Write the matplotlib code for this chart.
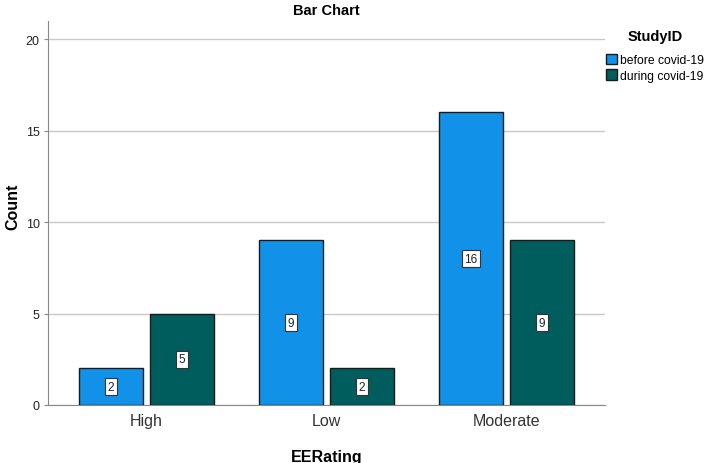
import matplotlib
matplotlib.use("Agg")
import matplotlib.pyplot as plt
import numpy as np

plt.rcParams["font.family"] = ["Liberation Sans", "DejaVu Sans"]

categories = ["High", "Low", "Moderate"]
series_names = ["before covid-19", "during covid-19"]
before = [2, 9, 16]
during = [5, 2, 9]
yticks = [0, 5, 10, 15, 20]
colors = ["#1192e8", "#005d5d"]

fig = plt.figure(figsize=(7.08, 4.64), dpi=100)
ax = fig.add_axes([0.0678, 0.125, 0.8545 - 0.0678, 0.9526 - 0.125])

x = np.arange(len(categories))
w = 0.356
off = 0.197
for vals, o, c, name in [(before, -off, colors[0], series_names[0]), (during, off, colors[1], series_names[1])]:
    bars = ax.bar(x + o, vals, width=w, color=c, edgecolor="#1a1a1a", linewidth=1.0, label=name, zorder=3)
    for b, v in zip(bars, vals):
        ax.text(b.get_x() + b.get_width() / 2, v / 2, str(v), ha="center", va="center", fontsize=8.5,
                color="#222222", zorder=4,
                bbox=dict(boxstyle="square,pad=0.2", facecolor="white", edgecolor="#333333", linewidth=0.8))

ax.set_xlim(-0.547, 2.547)
ax.set_ylim(0, 21)
ax.set_yticks(yticks)
ax.set_yticklabels([str(t) for t in yticks], fontsize=9, color="#222222")
ax.set_xticks(x)
ax.set_xticklabels(categories, fontsize=11.5, color="#333333")
ax.tick_params(axis="x", length=0, pad=6)
ax.tick_params(axis="y", length=3, color="#888888", pad=3)
ax.grid(axis="y", color="#c8c8c8", linewidth=1.0, zorder=0)
for s in ["top", "right"]:
    ax.spines[s].set_visible(False)
ax.spines["left"].set_color("#888888")
ax.spines["bottom"].set_color("#888888")

ax.set_ylabel("Count", fontsize=11.5, fontweight="bold")
ax.yaxis.set_label_coords(-0.05, 0.52)
ax.set_xlabel("EERating", fontsize=11.5, fontweight="bold")
ax.xaxis.set_label_coords(0.5, -0.115)
fig.text(326 / 708, 1 - 11 / 464, "Bar Chart", ha="center", va="center", fontsize=10.5, fontweight="bold")

fig.text(655 / 708, 1 - 37 / 464, "StudyID", ha="center", va="center", fontsize=10.5, fontweight="bold")
leg = fig.legend(*ax.get_legend_handles_labels(), loc="upper left",
                 bbox_to_anchor=(606 / 708, 1 - 55 / 464), frameon=False, fontsize=8.7,
                 handlelength=0.95, handleheight=0.95, handletextpad=0.25, labelspacing=0.25,
                 borderaxespad=0.0, borderpad=0.0)

fig.savefig("out.png", dpi=100)
